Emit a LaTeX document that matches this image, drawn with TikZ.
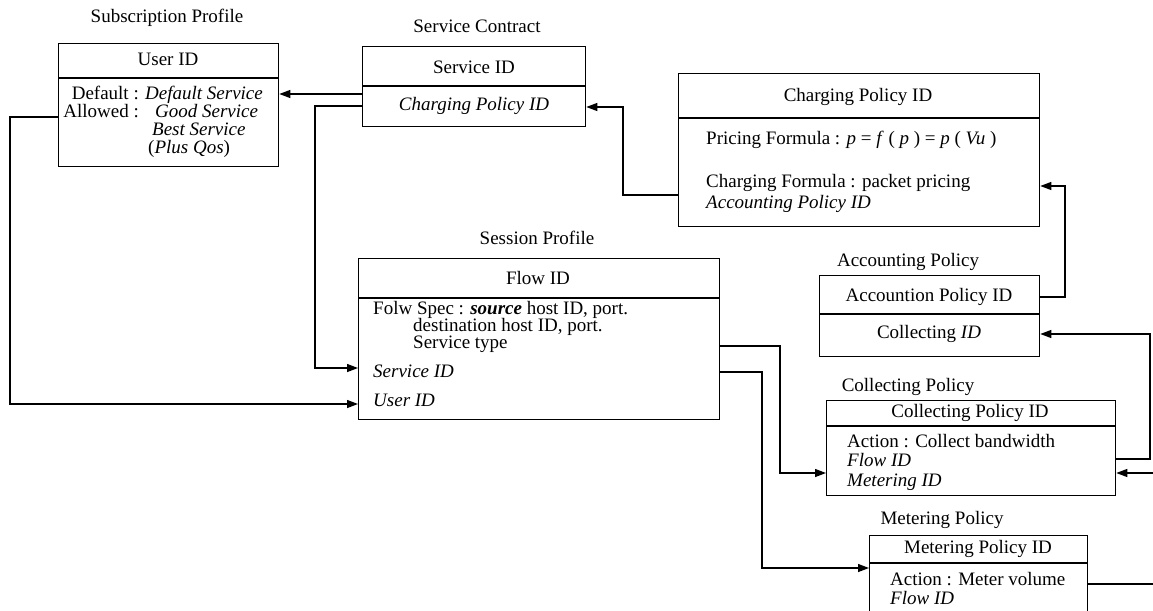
\documentclass[tikz,border=0pt]{standalone}
\usepackage{fontspec}
\setmainfont{Liberation Serif}
\usetikzlibrary{arrows.meta}
\begin{document}
\begin{tikzpicture}[x=1pt,y=-1pt,
  box/.style={draw, line width=1.3pt, inner sep=0pt, anchor=north west},
  lbl/.style={inner sep=0pt, text height=12pt, text depth=3pt, font=\fontsize{19}{19}\selectfont},
  lw/.style={lbl, anchor=west},
  le/.style={lbl, anchor=east},
  wire/.style={line width=1.3pt},
  conn/.style={line width=1.3pt, -{Triangle[length=11pt,width=8pt]}}]
\clip (0,0) rectangle (1153,610);
\useasboundingbox (0,0) rectangle (1153,610);

% Subscription Profile
\node[lbl] (subT) at (167,18) {Subscription Profile};
\node[box, minimum width=220pt, minimum height=123pt] (sub) at (58,43) {};
\draw[wire] (sub.west |- 0,78) -- (sub.east |- 0,78);
\node[lbl] (subH) at (168,61) {User ID};
\node[le] (sub1) at (139,95) {Default :};
\node[lw] (sub1b) at (145,95) {\textit{Default Service}};
\node[le] (sub2) at (139,113) {Allowed :};
\node[lw] (sub3) at (155,113) {\textit{Good Service}};
\node[lw] (sub4) at (152,131) {\textit{Best Service}};
\node[lw] (sub5) at (148,149) {(\textit{Plus Qos})};

% Service Contract
\node[lbl] (scT) at (477,28) {Service Contract};
\node[box, minimum width=223pt, minimum height=80pt] (sc) at (362,46) {};
\draw[wire] (sc.west |- 0,86) -- (sc.east |- 0,86);
\node[lbl] (scH) at (474,69) {Service ID};
\node[lbl] (sc1) at (474,106) {\textit{Charging Policy ID}};

% Charging Policy
\node[box, minimum width=361pt, minimum height=153pt] (cp) at (678,73) {};
\draw[wire] (cp.west |- 0,118) -- (cp.east |- 0,118);
\node[lbl] (cpH) at (858,97) {Charging Policy ID};
\node[lw] (cp1) at (706,140) {Pricing Formula : \textit{p} = \textit{f} ( \textit{p} ) = \textit{p} ( \textit{Vu} )};
\node[lw] (cp2) at (706,183) {Charging Formula : packet pricing};
\node[lw] (cp3) at (706,204) {\textit{Accounting Policy ID}};

% Session Profile
\node[lbl] (spT) at (537,240) {Session Profile};
\node[box, minimum width=361pt, minimum height=161pt] (sp) at (358,258) {};
\draw[wire] (sp.west |- 0,298) -- (sp.east |- 0,298);
\node[lbl] (spH) at (538,280) {Flow ID};
\node[lw] (sp1) at (373,310) {Folw Spec : \textbf{\textit{source}} host ID, port.};
\node[lw] (sp2) at (413,327) {destination host ID, port.};
\node[lw] (sp3) at (413,344) {Service type};
\node[lw] (sp4) at (373,373) {\textit{Service ID}};
\node[lw] (sp5) at (373,402) {\textit{User ID}};

% Accounting Policy
\node[lbl] (apT) at (908,262) {Accounting Policy};
\node[box, minimum width=220pt, minimum height=81pt] (ap) at (819,275) {};
\draw[wire] (ap.west |- 0,314) -- (ap.east |- 0,314);
\node[lbl] (apH) at (929,297) {Accountion Policy ID};
\node[lbl] (ap1) at (929,334) {Collecting \textit{ID}};

% Collecting Policy
\node[lbl] (clT) at (908,387) {Collecting Policy};
\node[box, minimum width=289pt, minimum height=95pt] (cl) at (826,400) {};
\draw[wire] (cl.west |- 0,426) -- (cl.east |- 0,426);
\node[lbl] (clH) at (970,413) {Collecting Policy ID};
\node[lw] (cl1) at (847,443) {Action : Collect bandwidth};
\node[lw] (cl2) at (847,462) {\textit{Flow ID}};
\node[lw] (cl3) at (847,482) {\textit{Metering ID}};

% Metering Policy
\node[lbl] (mpT) at (942,520) {Metering Policy};
\node[box, minimum width=218pt, minimum height=90pt] (mp) at (869,535) {};
\draw[wire] (mp.west |- 0,563) -- (mp.east |- 0,563);
\node[lbl] (mpH) at (978,549) {Metering Policy ID};
\node[lw] (mp1) at (890,581) {Action : Meter volume};
\node[lw] (mp2) at (890,600) {\textit{Flow ID}};

% connectors
\draw[conn] (sc.west |- 0,94) -- (sub.east |- 0,94);
\draw[conn] (sc.west |- 0,106) -| (315,368) -- (sp.west |- 0,368);
\draw[conn] (sub.west |- 0,117) -| (10,404) -- (sp.west |- 0,404);
\draw[conn] (cp.west |- 0,195) -| (623,107) -- (sc.east |- 0,107);
\draw[conn] (ap.east |- 0,297) -| (1065,186) -- (cp.east |- 0,186);
\draw[conn] (sp.east |- 0,346) -| (780,473) -- (cl.west |- 0,473);
\draw[conn] (sp.east |- 0,372) -| (762,568) -- (mp.west |- 0,568);
\draw[conn] (cl.east |- 0,459) -| (1150,334) -- (ap.east |- 0,334);
\draw[conn] (mp.east |- 0,584) -| (1170,473) -- (cl.east |- 0,473);
\end{tikzpicture}
\end{document}
